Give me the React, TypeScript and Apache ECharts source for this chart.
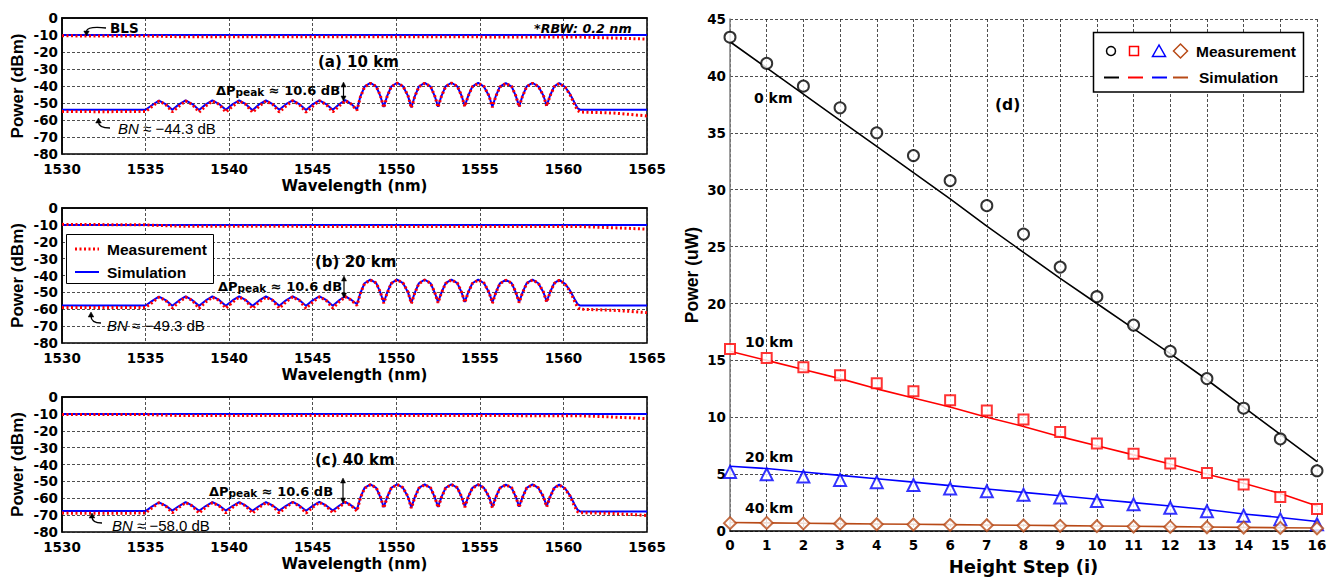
import React, { useEffect, useRef } from 'react';
import * as echarts from 'echarts';

// ---------- Spectra (panels a, b, c) ----------
const WL = [
  1530, 1532.5, 1534.6,
  1535.0, 1535.4, 1535.8, 1536.2, 1536.6, 1537.0, 1537.4, 1537.8, 1538.2,
  1538.6, 1539.0, 1539.4, 1539.8, 1540.2, 1540.6, 1541.0, 1541.4, 1541.8,
  1542.2, 1542.6, 1543.0, 1543.4, 1543.8, 1544.2, 1544.6, 1545.0, 1545.4,
  1545.8, 1546.2, 1546.6, 1546.95, 1547.3, 1547.65,
  1547.85, 1548.1, 1548.45, 1548.8, 1549.05, 1549.25,
  1549.45, 1549.7, 1550.05, 1550.4, 1550.7, 1550.9,
  1551.1, 1551.35, 1551.7, 1552.05, 1552.3, 1552.5,
  1552.7, 1552.95, 1553.3, 1553.65, 1553.9, 1554.1,
  1554.3, 1554.55, 1554.9, 1555.25, 1555.55, 1555.75,
  1555.95, 1556.2, 1556.55, 1556.9, 1557.15, 1557.35,
  1557.55, 1557.8, 1558.15, 1558.5, 1558.8, 1559.0,
  1559.2, 1559.45, 1559.75, 1560.1, 1560.4, 1560.65, 1560.85, 1561.0,
  1563, 1565,
];

const SIM_A = [
  -54, -54, -54,
  -54, -51.2, -48.6, -50.6, -54.0, -50.8, -48.5, -50.6, -54.1,
  -50.8, -48.5, -50.6, -54.0, -50.8, -48.5, -50.7, -54.2, -50.8,
  -48.5, -50.6, -54.0, -50.7, -48.4, -50.6, -54.1, -50.8, -48.4,
  -50.6, -54.0, -50.6, -48.3, -50.5, -53.8,
  -46.2, -40.4, -38.2, -40.3, -46.0, -52.4,
  -46.0, -40.3, -38.1, -40.2, -45.8, -52.6,
  -46.2, -40.3, -38.2, -40.3, -45.9, -52.2,
  -45.9, -40.2, -38.1, -40.2, -45.6, -51.8,
  -45.8, -40.3, -38.2, -40.4, -45.9, -52.2,
  -46.0, -40.4, -38.3, -40.3, -45.8, -52.0,
  -45.9, -40.2, -38.2, -40.3, -45.6, -51.6,
  -45.6, -40.2, -38.3, -40.6, -44.8, -49.6, -53.1, -53.9,
  -53.9, -53.9,
];
const MEAS_A = [
  -55.0, -55.1, -55.0,
  -55.0, -52.0, -48.9, -50.8, -55.2, -51.9, -48.8, -50.9, -55.4,
  -51.8, -48.9, -50.8, -55.3, -52.0, -48.8, -50.9, -55.5, -51.9,
  -48.9, -50.8, -55.3, -51.8, -48.7, -50.9, -55.4, -51.9, -48.7,
  -50.8, -55.2, -51.6, -48.6, -50.6, -54.3,
  -46.5, -40.6, -38.4, -40.2, -45.7, -52.8,
  -46.3, -40.5, -38.3, -40.1, -45.6, -52.9,
  -46.4, -40.5, -38.4, -40.2, -45.8, -52.5,
  -46.1, -40.4, -38.3, -40.1, -45.5, -52.1,
  -46.0, -40.5, -38.4, -40.3, -45.8, -52.6,
  -46.2, -40.6, -38.5, -40.2, -45.7, -52.3,
  -46.1, -40.4, -38.4, -40.2, -45.5, -51.9,
  -45.8, -40.4, -38.5, -40.7, -45.2, -50.5, -54.4, -55.3,
  -55.9, -57.6,
];

const SIM_B = [
  -57.8, -57.8, -57.8,
  -57.8, -55.0, -52.5, -54.6, -57.9, -54.8, -52.4, -54.6, -58.0,
  -54.8, -52.4, -54.5, -57.9, -54.8, -52.4, -54.6, -58.0, -54.8,
  -52.4, -54.5, -57.9, -54.7, -52.3, -54.5, -58.0, -54.7, -52.3,
  -54.5, -57.9, -54.5, -52.2, -54.4, -57.0,
  -50.4, -44.6, -42.5, -44.5, -50.2, -56.0,
  -50.2, -44.5, -42.4, -44.5, -50.0, -56.2,
  -50.4, -44.6, -42.5, -44.6, -50.1, -55.8,
  -50.1, -44.5, -42.4, -44.5, -49.9, -55.6,
  -50.0, -44.6, -42.5, -44.6, -50.1, -55.9,
  -50.2, -44.6, -42.6, -44.5, -50.0, -55.7,
  -50.1, -44.5, -42.5, -44.6, -49.9, -55.4,
  -49.9, -44.5, -42.6, -44.9, -49.0, -53.6, -57.0, -57.8,
  -57.8, -57.8,
];
const MEAS_B = [
  -58.9, -59.0, -58.9,
  -58.9, -56.0, -52.9, -54.7, -59.3, -55.8, -52.8, -54.8, -59.5,
  -55.7, -52.9, -54.7, -59.4, -55.9, -52.8, -54.8, -59.6, -55.8,
  -52.9, -54.7, -59.4, -55.7, -52.7, -54.8, -59.5, -55.8, -52.7,
  -54.7, -59.3, -55.5, -52.6, -54.5, -57.8,
  -50.7, -44.8, -42.7, -44.4, -49.9, -56.5,
  -50.5, -44.7, -42.6, -44.4, -49.8, -56.6,
  -50.6, -44.8, -42.7, -44.5, -50.0, -56.2,
  -50.3, -44.7, -42.6, -44.4, -49.7, -56.0,
  -50.2, -44.8, -42.7, -44.5, -50.0, -56.4,
  -50.4, -44.8, -42.8, -44.4, -49.8, -56.1,
  -50.3, -44.7, -42.7, -44.5, -49.7, -55.8,
  -50.1, -44.7, -42.8, -45.1, -49.5, -54.8, -58.9, -60.0,
  -60.6, -62.0,
];

const SIM_C = [
  -67.6, -67.6, -67.6,
  -67.6, -64.8, -62.4, -64.4, -67.3, -64.6, -62.3, -64.4, -67.4,
  -64.6, -62.3, -64.3, -67.3, -64.6, -62.3, -64.4, -67.4, -64.6,
  -62.3, -64.3, -67.3, -64.5, -62.2, -64.3, -67.4, -64.5, -62.2,
  -64.3, -67.3, -64.3, -62.1, -64.2, -66.8,
  -59.6, -53.9, -51.8, -53.8, -59.4, -65.3,
  -59.4, -53.8, -51.7, -53.8, -59.2, -65.5,
  -59.6, -53.9, -51.8, -53.9, -59.3, -65.1,
  -59.3, -53.8, -51.7, -53.8, -59.1, -64.9,
  -59.2, -53.9, -51.8, -53.9, -59.3, -65.2,
  -59.4, -53.9, -51.9, -53.8, -59.2, -65.0,
  -59.3, -53.8, -51.8, -53.9, -59.1, -64.7,
  -59.1, -53.8, -51.9, -54.2, -58.4, -63.4, -66.9, -67.8,
  -67.8, -67.8,
];
const MEAS_C = [
  -68.8, -68.9, -68.8,
  -68.8, -65.6, -62.7, -64.5, -68.6, -65.4, -62.6, -64.6, -68.8,
  -65.3, -62.7, -64.5, -68.7, -65.5, -62.6, -64.6, -68.9, -65.4,
  -62.7, -64.5, -68.7, -65.3, -62.5, -64.6, -68.8, -65.4, -62.5,
  -64.5, -68.6, -65.1, -62.4, -64.3, -67.6,
  -59.9, -54.1, -52.0, -53.7, -59.1, -65.8,
  -59.7, -54.0, -51.9, -53.7, -59.0, -65.9,
  -59.8, -54.1, -52.0, -53.8, -59.2, -65.5,
  -59.5, -54.0, -51.9, -53.7, -58.9, -65.3,
  -59.4, -54.1, -52.0, -53.8, -59.2, -65.7,
  -59.6, -54.1, -52.1, -53.7, -59.0, -65.4,
  -59.5, -54.0, -52.0, -53.8, -58.9, -65.1,
  -59.3, -54.0, -52.1, -54.4, -58.8, -64.5, -68.0, -68.6,
  -69.0, -70.2,
];

// Broadband light source (BLS) traces
const BLS_WL = [1530, 1535, 1537, 1545, 1555, 1561, 1563, 1565];
const BLS_SIM_A = [-10, -10, -10, -10, -10, -10, -10, -10];
const BLS_MEAS_A = [-10.5, -10.6, -11.0, -11.0, -11.1, -11.2, -11.8, -12.4];
const BLS_SIM_B = [-10, -10, -10, -10, -10, -10, -10, -10];
const BLS_MEAS_B = [-9.7, -10.0, -10.8, -10.9, -10.9, -11.0, -11.7, -12.5];
const BLS_SIM_C = [-10, -10, -10, -10, -10, -10, -10, -10];
const BLS_MEAS_C = [-10.3, -10.4, -11.0, -11.0, -11.0, -11.1, -11.9, -12.8];

const POWER_TICKS = [0, -10, -20, -30, -40, -50, -60, -70, -80];
const WL_TICKS = [1530, 1535, 1540, 1545, 1550, 1555, 1560, 1565];

// ---------- Panel d ----------
const STEPS = [0, 1, 2, 3, 4, 5, 6, 7, 8, 9, 10, 11, 12, 13, 14, 15, 16];
const MEAS_0KM = [43.4, 41.1, 39.1, 37.2, 35.0, 33.0, 30.8, 28.6, 26.1, 23.2, 20.6, 18.1, 15.8, 13.4, 10.8, 8.1, 5.3];
const SIM_0KM = [43.0, 40.7, 38.4, 36.1, 33.8, 31.5, 29.2, 26.8, 24.5, 22.2, 20.0, 17.8, 15.6, 13.3, 10.9, 8.5, 6.1];
const MEAS_10KM = [16.0, 15.2, 14.4, 13.7, 13.0, 12.3, 11.5, 10.6, 9.8, 8.7, 7.7, 6.8, 5.95, 5.1, 4.1, 3.0, 1.95];
const SIM_10KM = [15.8, 15.0, 14.2, 13.4, 12.5, 11.7, 10.9, 10.0, 9.2, 8.3, 7.5, 6.7, 5.9, 5.0, 4.2, 3.3, 2.2];
const MEAS_20KM = [5.2, 5.0, 4.8, 4.5, 4.3, 4.05, 3.75, 3.5, 3.2, 2.95, 2.65, 2.35, 2.05, 1.75, 1.35, 1.05, 0.6];
const SIM_20KM = [5.7, 5.5, 5.2, 4.9, 4.6, 4.3, 4.0, 3.7, 3.4, 3.1, 2.8, 2.5, 2.2, 1.9, 1.5, 1.2, 0.85];
const MEAS_40KM = [0.70, 0.72, 0.68, 0.65, 0.60, 0.58, 0.55, 0.52, 0.49, 0.46, 0.43, 0.40, 0.37, 0.34, 0.31, 0.28, 0.25];
const SIM_40KM = [0.75, 0.72, 0.69, 0.66, 0.63, 0.60, 0.57, 0.54, 0.51, 0.48, 0.45, 0.42, 0.39, 0.36, 0.33, 0.30, 0.27];

const FD = 'DejaVu Sans';
const FL = 'Liberation Sans';
const RED = '#ff0000';
const BLUE = '#0000ff';
const BROWN = '#b84a17';

const pairs = (xs: number[], ys: number[]) => xs.map((x, i) => [x, ys[i]]);
const plain = (v: number) => String(v);

function specAxes(g: number) {
  const x = {
    type: 'value', gridIndex: g, min: WL_TICKS[0], max: WL_TICKS[WL_TICKS.length - 1], interval: 5,
    axisLine: { show: true, lineStyle: { color: '#000', width: 1.5 } },
    axisTick: { show: false },
    axisLabel: { color: '#000', fontFamily: FD, fontWeight: 'bold', fontSize: 13.5, margin: 8, formatter: plain },
    splitLine: { show: true, lineStyle: { color: '#222', type: [3, 2], width: 0.8 } },
    name: 'Wavelength (nm)', nameLocation: 'middle', nameGap: 24,
    nameTextStyle: { color: '#000', fontFamily: FD, fontWeight: 'bold', fontSize: 15 },
  };
  const y = {
    type: 'value', gridIndex: g, min: POWER_TICKS[POWER_TICKS.length - 1], max: POWER_TICKS[0], interval: 10,
    axisLine: { show: true, lineStyle: { color: '#000', width: 1.5 } },
    axisTick: { show: false },
    axisLabel: { color: '#000', fontFamily: FD, fontWeight: 'bold', fontSize: 13.5, margin: 4, formatter: plain },
    splitLine: { show: true, lineStyle: { color: '#222', type: [3, 2], width: 0.8 } },
    name: 'Power (dBm)', nameLocation: 'middle', nameGap: 36,
    nameTextStyle: { color: '#000', fontFamily: FL, fontWeight: 'bold', fontSize: 17 },
  };
  return { x, y };
}

function specSeries(g: number, blsSim: number[], blsMeas: number[], sim: number[], meas: number[]) {
  const simStyle = { color: BLUE, width: 2 };
  const measStyle = { color: RED, width: 3, type: [2, 2.5] };
  const base = { type: 'line', xAxisIndex: g, yAxisIndex: g, showSymbol: false, symbol: 'none', silent: true };
  return [
    { ...base, name: 'Simulation', data: pairs(BLS_WL, blsSim), lineStyle: simStyle, z: 2 },
    { ...base, name: 'Measurement', data: pairs(BLS_WL, blsMeas), lineStyle: measStyle, z: 3 },
    { ...base, name: 'Simulation', data: pairs(WL, sim), lineStyle: simStyle, z: 2 },
    { ...base, name: 'Measurement', data: pairs(WL, meas), lineStyle: measStyle, z: 3 },
  ];
}

const T = (x: number, y: number, text: string, extra: any = {}) => ({
  type: 'text', x, y, z: 100,
  style: { text, fill: '#000', fontFamily: FD, fontWeight: 'bold', fontSize: 14, align: 'left', verticalAlign: 'middle', ...extra },
});
const L = (x1: number, y1: number, x2: number, y2: number, stroke = '#000', lineWidth = 1.2, lineDash: any = null) => ({
  type: 'line', z: 100, shape: { x1, y1, x2, y2 }, style: { stroke, lineWidth, lineDash },
});
const P = (points: number[][], fill = '#000') => ({
  type: 'polygon', z: 100, shape: { points }, style: { fill, stroke: fill, lineWidth: 0.5 },
});
const C = (x1: number, y1: number, cx: number, cy: number, x2: number, y2: number) => ({
  type: 'bezierCurve', z: 100, shape: { x1, y1, x2, y2, cpx1: cx, cpy1: cy }, style: { stroke: '#000', lineWidth: 1.3, fill: null },
});

const dpText = (x: number, y: number) => ({
  type: 'text', x, y, z: 100,
  style: {
    text: '{a|ΔP}{b|peak}{a| ≈ 10.6 dB}', verticalAlign: 'middle', align: 'left',
    rich: {
      a: { fontFamily: FD, fontWeight: 'bold', fontSize: 13, fill: '#000' },
      b: { fontFamily: FD, fontWeight: 'bold', fontSize: 10.5, fill: '#000', padding: [3, 0, 0, 0] },
    },
  },
});
const bnText = (x: number, y: number, val: string) => ({
  type: 'text', x, y, z: 100,
  style: {
    text: '{i|BN}{n| ≈ ' + val + ' dB}', verticalAlign: 'middle', align: 'left',
    rich: {
      i: { fontFamily: FL, fontStyle: 'italic', fontSize: 15, fill: '#000' },
      n: { fontFamily: FL, fontSize: 15, fill: '#000' },
    },
  },
});
const dblArrow = (x: number, y1: number, y2: number) => [
  L(x, y1 + 3, x, y2 - 3, '#000', 1.2),
  P([[x - 2.5, y1 + 5], [x + 2.5, y1 + 5], [x, y1]]),
  P([[x - 2.5, y2 - 5], [x + 2.5, y2 - 5], [x, y2]]),
];
const bnArrow = (tipX: number, tipY: number, endX: number, endY: number) => [
  C(endX, endY, tipX, endY, tipX, tipY + 4),
  P([[tipX - 2.8, tipY + 5], [tipX + 2.8, tipY + 5], [tipX, tipY]]),
];

function buildOption() {
  const a = specAxes(0), b = specAxes(1), c = specAxes(2);
  const gridBase = { show: true, borderColor: '#000', borderWidth: 1.5, backgroundColor: '#fff' };

  const dX = {
    type: 'value', gridIndex: 3, min: 0, max: 16, interval: 1,
    axisLine: { show: true, onZero: false, lineStyle: { color: '#000', width: 1.5 } },
    axisTick: { show: false },
    axisLabel: { color: '#000', fontFamily: FD, fontWeight: 'bold', fontSize: 13.5, margin: 7, formatter: plain },
    splitLine: { show: true, lineStyle: { color: '#222', type: [3, 2], width: 0.8 } },
    name: 'Height Step (i)', nameLocation: 'middle', nameGap: 25,
    nameTextStyle: { color: '#000', fontFamily: FD, fontWeight: 'bold', fontSize: 18 },
  };
  const dY = {
    type: 'value', gridIndex: 3, min: 0, max: 45, interval: 5,
    axisLine: { show: true, onZero: false, lineStyle: { color: '#808080', width: 1.5 } },
    axisTick: { show: false },
    axisLabel: { color: '#000', fontFamily: FD, fontWeight: 'bold', fontSize: 13.5, margin: 4, formatter: plain },
    splitLine: { show: true, lineStyle: { color: '#222', type: [3, 2], width: 0.8 } },
    name: 'Power (uW)', nameLocation: 'middle', nameGap: 29,
    nameTextStyle: { color: '#000', fontFamily: FL, fontWeight: 'bold', fontSize: 17.5 },
  };

  const simD = (data: number[], color: string) => ({
    type: 'line', xAxisIndex: 3, yAxisIndex: 3, data: pairs(STEPS, data), showSymbol: false, symbol: 'none',
    lineStyle: { color, width: 1.6 }, z: 2, silent: true,
  });
  const measD = (data: number[], color: string, symbol: string, size: number) => ({
    type: 'scatter', xAxisIndex: 3, yAxisIndex: 3, data: pairs(STEPS, data), symbol, symbolSize: size,
    itemStyle: { color, borderColor: color, borderWidth: 1.5 }, z: 3, silent: true,
  });

  const graphic: any[] = [
    // panel a
    T(110, 28, 'BLS', { fontSize: 13.5 }),
    C(106, 28, 88, 26, 86.5, 31),
    P([[83.8, 31], [89.2, 31], [86.5, 36]]),
    T(534, 28, '*RBW: 0.2 nm', { fontStyle: 'italic', fontSize: 12.7 }),
    T(318, 62, '(a) 10 km', { fontSize: 15 }),
    dpText(216, 90),
    ...dblArrow(343.5, 82, 101),
    ...bnArrow(98.5, 118, 110, 128),
    bnText(118, 128, '−44.3'),
    // panel b
    T(315, 262, '(b) 20 km', { fontSize: 15 }),
    dpText(218, 286),
    ...dblArrow(344, 276, 298),
    ...bnArrow(91, 312, 101, 323),
    bnText(107, 325, '−49.3'),
    // legend b
    { type: 'rect', z: 99, shape: { x: 66.5, y: 234.5, width: 147, height: 49 }, style: { fill: '#fff', stroke: '#000', lineWidth: 1 } },
    L(75, 249, 99, 249, RED, 3, [2, 2.5]),
    T(107, 249, 'Measurement', { fontFamily: FL, fontSize: 15.5 }),
    L(75, 272, 99, 272, BLUE, 2),
    T(107, 272, 'Simulation', { fontFamily: FL, fontSize: 15.5 }),
    // panel c
    T(315, 460, '(c) 40 km', { fontSize: 15 }),
    dpText(209, 491),
    ...dblArrow(343, 478, 503),
    ...bnArrow(92, 513, 102, 523),
    bnText(112, 525, '−58.0'),
    // panel d
    T(754, 98, '0 km', { fontSize: 14 }),
    T(995, 105, '(d)', { fontSize: 15.5 }),
    T(745, 342, '10 km', { fontSize: 14 }),
    T(745, 457, '20 km', { fontSize: 14 }),
    T(745, 508, '40 km', { fontSize: 14 }),
    // legend d
    { type: 'rect', z: 99, shape: { x: 1093.5, y: 32.5, width: 210, height: 59.5 }, style: { fill: '#fff', stroke: '#000', lineWidth: 1.5 } },
    { type: 'circle', z: 100, shape: { cx: 1111, cy: 51, r: 4.5 }, style: { fill: '#fff', stroke: '#000', lineWidth: 1.5 } },
    { type: 'rect', z: 100, shape: { x: 1129.5, y: 46.5, width: 9, height: 9 }, style: { fill: '#fff', stroke: RED, lineWidth: 1.5 } },
    { type: 'polygon', z: 100, shape: { points: [[1159, 45], [1152.5, 56.5], [1165.5, 56.5]] }, style: { fill: '#fff', stroke: BLUE, lineWidth: 1.5 } },
    { type: 'polygon', z: 100, shape: { points: [[1180.5, 44], [1187.5, 51], [1180.5, 58], [1173.5, 51]] }, style: { fill: '#fff', stroke: BROWN, lineWidth: 1.5 } },
    T(1196, 51, 'Measurement', { fontFamily: FL, fontSize: 15.5 }),
    L(1104, 77.5, 1119, 77.5, '#000', 2),
    L(1128, 77.5, 1143, 77.5, RED, 2),
    L(1152, 77.5, 1167, 77.5, BLUE, 2),
    L(1173, 77.5, 1188, 77.5, BROWN, 2),
    T(1199, 77.5, 'Simulation', { fontFamily: FL, fontSize: 15.5 }),
  ];

  return {
    animation: false,
    backgroundColor: '#fff',
    grid: [
      { ...gridBase, left: 62, top: 18, width: 585, height: 136 },
      { ...gridBase, left: 62, top: 208, width: 585, height: 135 },
      { ...gridBase, left: 62, top: 397, width: 585, height: 135 },
      { show: false, left: 730, top: 19, width: 587, height: 514 },
    ],
    xAxis: [a.x, b.x, c.x, dX],
    yAxis: [a.y, b.y, c.y, dY],
    series: [
      ...specSeries(0, BLS_SIM_A, BLS_MEAS_A, SIM_A, MEAS_A),
      ...specSeries(1, BLS_SIM_B, BLS_MEAS_B, SIM_B, MEAS_B),
      ...specSeries(2, BLS_SIM_C, BLS_MEAS_C, SIM_C, MEAS_C),
      simD(SIM_0KM, '#000'),
      simD(SIM_10KM, RED),
      simD(SIM_20KM, BLUE),
      simD(SIM_40KM, BROWN),
      measD(MEAS_0KM, '#000', 'emptyCircle', 11),
      measD(MEAS_10KM, RED, 'emptyRect', 10),
      measD(MEAS_20KM, BLUE, 'emptyTriangle', 12),
      measD(MEAS_40KM, BROWN, 'emptyDiamond', 12),
    ],
    graphic,
  };
}

export default function App() {
  const ref = useRef<HTMLDivElement>(null);
  useEffect(() => {
    const chart = echarts.init(ref.current as HTMLDivElement, null, { renderer: 'svg' });
    chart.setOption(buildOption() as any);
    return () => chart.dispose();
  }, []);
  return (
    <div
      ref={ref}
      style={{ position: 'absolute', left: 0, top: 0, width: 1333, height: 580, background: '#fff' }}
    />
  );
}
